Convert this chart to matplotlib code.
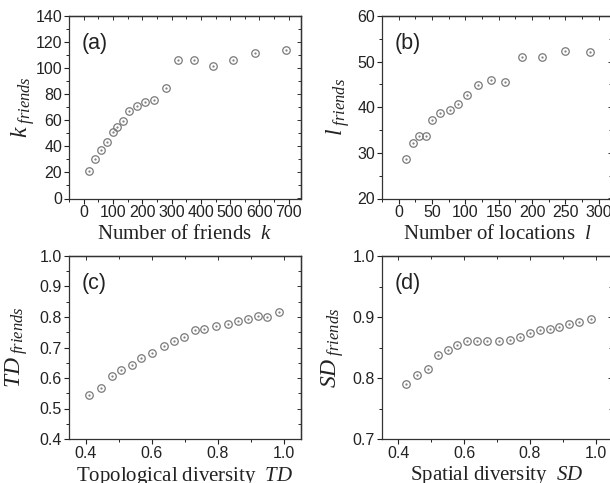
import matplotlib
matplotlib.use("Agg")
import matplotlib.pyplot as plt
from matplotlib.ticker import MultipleLocator

plt.rcParams['font.family'] = 'Liberation Sans'
plt.rcParams['mathtext.fontset'] = 'custom'
plt.rcParams['mathtext.rm'] = 'Liberation Serif'
plt.rcParams['mathtext.it'] = 'Liberation Serif:italic'

# (a) number of friends
k_vals = [17, 39, 59, 78, 99, 115, 133, 156, 181, 208, 240, 281, 323, 378, 443, 509, 585, 691]
k_friends = [21.4, 30.3, 37.5, 43.4, 51.0, 54.8, 59.7, 67.3, 71.2, 74.2, 75.2, 84.9,
             106.3, 106.3, 102.0, 106.3, 112.0, 113.7]

# (b) number of locations
l_vals = [11, 21, 30, 41, 50, 62, 77, 89, 102, 119, 138, 160, 185, 215, 249, 287]
l_friends = [28.7, 32.2, 33.6, 33.8, 37.2, 38.7, 39.3, 40.8, 42.7, 44.8, 45.9, 45.6,
             51.0, 51.0, 52.3, 52.1]

# (c) topological diversity
td_vals = [0.411, 0.447, 0.480, 0.508, 0.539, 0.569, 0.601, 0.637, 0.668, 0.697,
           0.730, 0.758, 0.794, 0.830, 0.860, 0.891, 0.920, 0.950, 0.985]
td_friends = [0.544, 0.567, 0.605, 0.627, 0.642, 0.667, 0.681, 0.704, 0.722, 0.733,
              0.757, 0.762, 0.771, 0.777, 0.788, 0.793, 0.802, 0.800, 0.816]

# (d) spatial diversity
sd_vals = [0.424, 0.458, 0.489, 0.519, 0.550, 0.579, 0.610, 0.639, 0.669, 0.707,
           0.739, 0.770, 0.801, 0.830, 0.862, 0.890, 0.920, 0.950, 0.986]
sd_friends = [0.790, 0.805, 0.815, 0.837, 0.846, 0.854, 0.860, 0.860, 0.860, 0.860,
              0.863, 0.867, 0.873, 0.878, 0.881, 0.884, 0.888, 0.892, 0.897]

W, H = 610.0, 483.0
fig = plt.figure(figsize=(6.10, 4.83), dpi=100)


def make_axes(left, top, right, bottom):
    return fig.add_axes([left / W, 1 - bottom / H, (right - left) / W, (bottom - top) / H])


def panel(ax, x, y, xlim, ylim, xmaj, xmin, ymaj, ymin, xlabel, ylabel, tag, xl_pos, yl_pos):
    grey = '#7a7a7a'
    ax.plot(x, y, 'o', mfc='none', mec=grey, mew=0.9, ms=5.4, ls='none')
    ax.plot(x, y, '.', color=grey, ms=1.2, ls='none')
    ax.set_xlim(xlim)
    ax.set_ylim(ylim)
    ax.xaxis.set_major_locator(MultipleLocator(xmaj))
    ax.xaxis.set_minor_locator(MultipleLocator(xmin))
    ax.yaxis.set_major_locator(MultipleLocator(ymaj))
    ax.yaxis.set_minor_locator(MultipleLocator(ymin))
    ax.tick_params(which='major', direction='out', length=3.5, width=0.8,
                   labelsize=11.5, pad=1.5, colors='#222222')
    ax.tick_params(which='minor', direction='out', length=2, width=0.7, colors='#222222')
    for s in ax.spines.values():
        s.set_linewidth(0.9)
        s.set_color('#333333')
    # mirrored ticks on top and right, pointing inward
    top_ax = ax.secondary_xaxis('top')
    top_ax.xaxis.set_major_locator(MultipleLocator(xmaj))
    top_ax.xaxis.set_minor_locator(MultipleLocator(xmin))
    top_ax.tick_params(which='both', direction='in', labeltop=False, width=0.7, colors='#333333')
    top_ax.tick_params(which='major', length=3)
    top_ax.tick_params(which='minor', length=2)
    top_ax.spines['top'].set_linewidth(0.9)
    right_ax = ax.secondary_yaxis('right')
    right_ax.yaxis.set_major_locator(MultipleLocator(ymaj))
    right_ax.yaxis.set_minor_locator(MultipleLocator(ymin))
    right_ax.tick_params(which='both', direction='in', labelright=False, width=0.7, colors='#333333')
    right_ax.tick_params(which='major', length=3)
    right_ax.tick_params(which='minor', length=2)
    right_ax.spines['right'].set_linewidth(0.9)
    ax.set_xlabel(xlabel, fontsize=15, color='#222222', va='center')
    ax.set_ylabel(ylabel, fontsize=17, color='#222222', va='center')
    ax.xaxis.set_label_coords(0.5, xl_pos)
    ax.yaxis.set_label_coords(yl_pos, 0.5)
    ax.text(0.055, 0.85, tag, transform=ax.transAxes, fontsize=15.5,
            va='center', ha='left', color='#222222')


ax_a = make_axes(69, 16, 300.5, 198.5)
panel(ax_a, k_vals, k_friends, (-50, 740), (0, 140), 100, 50, 20, 10,
      r'$\mathrm{Number\ of\ friends}\ \ k$', r'$k_{\ friends}$', '(a)', -0.19, -0.2)

ax_b = make_axes(382, 16, 612, 198.5)
panel(ax_b, l_vals, l_friends, (-25, 320), (20, 60), 50, 25, 10, 5,
      r'$\mathrm{Number\ of\ locations}\ \ l$', r'$l_{\ friends}$', '(b)', -0.19, -0.19)

ax_c = make_axes(69, 256, 300.5, 439)
panel(ax_c, td_vals, td_friends, (0.35, 1.05), (0.4, 1.0), 0.2, 0.1, 0.1, 0.05,
      r'$\mathrm{Topological\ diversity}\ \ TD$', r'$TD_{\ friends}$', '(c)', -0.205, -0.225)

ax_d = make_axes(382, 256, 612, 439)
panel(ax_d, sd_vals, sd_friends, (0.35, 1.05), (0.7, 1.0), 0.2, 0.1, 0.1, 0.05,
      r'$\mathrm{Spatial\ diversity}\ \ SD$', r'$SD_{\ friends}$', '(d)', -0.2, -0.215)

fig.savefig('out.png', dpi=100)
